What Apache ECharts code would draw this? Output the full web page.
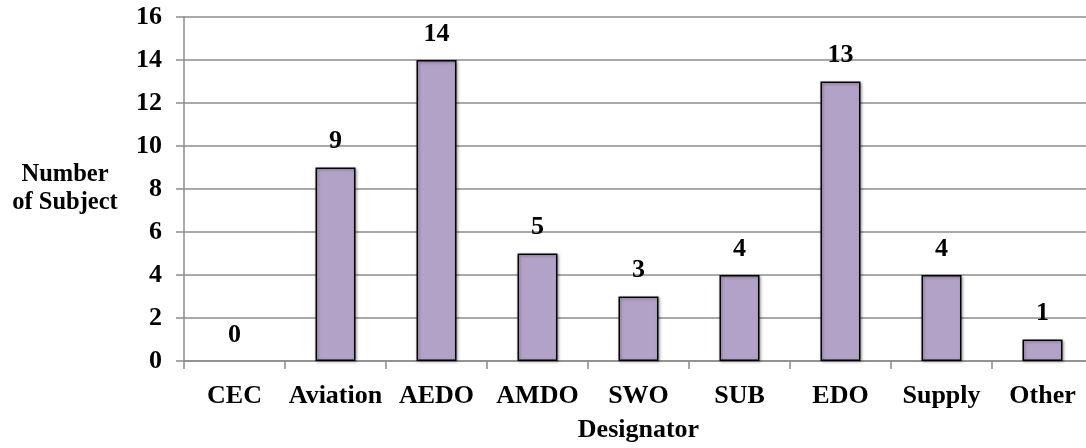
<!DOCTYPE html>
<html>
<head>
<meta charset="utf-8">
<script src="https://cdn.jsdelivr.net/npm/echarts@6/dist/echarts.min.js"></script>
<style>
html,body{margin:0;padding:0;background:#fff;overflow:hidden;}
#chart{width:1086px;height:448px;}
</style>
</head>
<body>
<div id="chart"></div>
<script>
const categories = ["CEC", "Aviation", "AEDO", "AMDO", "SWO", "SUB", "EDO", "Supply", "Other"];
const subjects = [0, 9, 14, 5, 3, 4, 13, 4, 1];
const yTitle = "Number\nof Subject";
const xTitle = "Designator";

const font = "'Liberation Serif', 'Times New Roman', serif";
const chart = echarts.init(document.getElementById('chart'), null, {renderer: 'canvas'});
chart.setOption({
  animation: false,
  backgroundColor: '#ffffff',
  grid: {left: 184, width: 909, top: 17, height: 344, containLabel: false, outerBoundsMode: 'none'},
  xAxis: {
    type: 'category',
    data: categories,
    name: xTitle,
    nameLocation: 'middle',
    nameGap: 56,
    nameTextStyle: {fontFamily: font, fontWeight: 'bold', fontSize: 26, color: '#000'},
    axisLine: {lineStyle: {color: '#8c8c8c', width: 1.5}},
    axisTick: {show: true, alignWithLabel: false, length: 8, lineStyle: {color: '#8c8c8c', width: 1.5}},
    axisLabel: {fontFamily: font, fontWeight: 'bold', fontSize: 26, color: '#000', margin: 22, interval: 0}
  },
  yAxis: {
    type: 'value',
    min: 0, max: 16, interval: 2,
    name: yTitle,
    nameLocation: 'middle',
    nameRotate: 0,
    nameGap: 119,
    nameTextStyle: {fontFamily: font, fontWeight: 'bold', fontSize: 24.5, color: '#000', align: 'center', verticalAlign: 'middle', lineHeight: 28},
    axisLine: {show: true, lineStyle: {color: '#8c8c8c', width: 1.5}},
    axisTick: {show: true, length: 8, lineStyle: {color: '#8c8c8c', width: 1.5}},
    axisLabel: {fontFamily: font, fontWeight: 'bold', fontSize: 26, color: '#000', margin: 22},
    splitLine: {lineStyle: {color: '#8c8c8c', width: 1.5}}
  },
  series: [{
    type: 'bar',
    data: subjects.map(v => v === 0 ? {value: v, itemStyle: {borderWidth: 0, shadowBlur: 0, shadowOffsetX: 0, shadowOffsetY: 0}} : v),
    barWidth: 40,
    itemStyle: {color: '#B3A2C7', borderColor: '#000', borderWidth: 1.5,
      shadowColor: 'rgba(0,0,0,0.35)', shadowBlur: 3, shadowOffsetX: 1, shadowOffsetY: 1},
    label: {show: true, position: 'top', distance: 13, fontFamily: font, fontWeight: 'bold', fontSize: 26, color: '#000'}
  }]
});
</script>
</body>
</html>
